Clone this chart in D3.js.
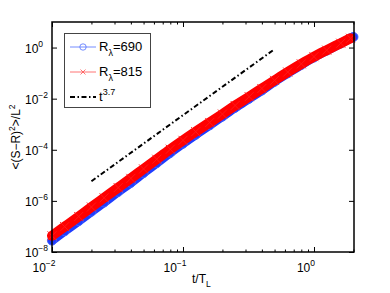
<!DOCTYPE html>
<html>
<head>
<meta charset="utf-8">
<script src="https://cdn.jsdelivr.net/npm/d3@7"></script>
<style>
  body { margin: 0; background: #fff; }
  text { font-family: "Liberation Sans", Arial, sans-serif; fill: #000; }
</style>
</head>
<body>
<div id="chart"></div>
<script>
// Data

const tValues = [0.01, 0.0125, 0.016, 0.02, 0.025, 0.032, 0.04, 0.05, 0.063, 0.08,
  0.1, 0.125, 0.16, 0.2, 0.25, 0.32, 0.4, 0.5, 0.63, 0.8, 1.0, 1.25, 1.6, 1.9];

const r815 = [4.3e-8, 9.8e-8, 2.45e-7, 5.75e-7, 1.32e-6, 3.3e-6, 7.6e-6, 1.78e-5, 4.27e-5, 1.05e-4,
  2.34e-4, 5.1e-4, 1.17e-3, 2.5e-3, 5.4e-3, 0.012, 0.025, 0.052, 0.11, 0.23, 0.44, 0.79, 1.48, 2.3];

const tBlue = [0.01, 0.0125, 0.016, 0.02, 0.025, 0.032, 0.04, 0.05, 0.063, 0.08,
  0.1, 0.125, 0.16, 0.2, 0.25, 0.32, 0.4, 0.5, 0.63, 0.8, 1.0, 1.25, 1.6, 1.9, 2.0];

const r690 = [2.8e-8, 6.5e-8, 1.62e-7, 3.8e-7, 8.7e-7, 2.24e-6, 5.1e-6, 1.23e-5, 3.0e-5, 7.6e-5,
  1.74e-4, 3.9e-4, 9.1e-4, 2.0e-3, 4.4e-3, 0.010, 0.021, 0.046, 0.098, 0.21, 0.41, 0.76, 1.45, 2.3, 2.6];

const fitT = [0.02, 0.49];
const fitY = [5.9e-6, 0.8];

const xTicks = [0.01, 0.1, 1];
const xTickExp = ["\u22122", "\u22121", "0"];
const yTicks = [1e-8, 1e-6, 1e-4, 1e-2, 1];
const yTickExp = ["\u22128", "\u22126", "\u22124", "\u22122", "0"];

// Chart

const width = 390;
const height = 293;
const margin = { top: 22, right: 36, bottom: 41, left: 52 };

const svg = d3
  .select("#chart")
  .append("svg")
  .attr("width", width)
  .attr("height", height);

const xScale = d3
  .scaleLog()
  .domain([0.01, 2.02])
  .range([margin.left, width - margin.right]);

const yScale = d3
  .scaleLog()
  .domain([1e-8, 10])
  .range([height - margin.bottom, margin.top]);

svg.append("clipPath").attr("id", "clip")
  .append("rect")
  .attr("x", margin.left - 6)
  .attr("y", margin.top)
  .attr("width", width - margin.left - margin.right + 12)
  .attr("height", height - margin.top - margin.bottom + 6);

const plot = svg.append("g").attr("clip-path", "url(#clip)");

const line = d3
  .line()
  .x((d) => xScale(d[0]))
  .y((d) => yScale(d[1]));

const smooth = d3
  .line()
  .curve(d3.curveMonotoneX)
  .x((d) => xScale(d[0]))
  .y((d) => yScale(d[1]));

const blueData = tBlue.map((t, i) => [t, r690[i]]);
const redData = tValues.map((t, i) => [t, r815[i]]);

// R = 690: blue circles
plot.append("path")
  .datum(blueData)
  .attr("d", smooth)
  .attr("fill", "none")
  .attr("stroke", "#1f3dff")
  .attr("stroke-width", 9)
  .attr("stroke-linecap", "round");

plot.selectAll(".c690")
  .data(blueData)
  .enter()
  .append("circle")
  .attr("cx", (d) => xScale(d[0]))
  .attr("cy", (d) => yScale(d[1]))
  .attr("r", 4.5)
  .attr("fill", "none")
  .attr("stroke", "#3f5fff")
  .attr("stroke-width", 1);

// R = 815: red crosses
plot.append("path")
  .datum(redData)
  .attr("d", smooth)
  .attr("fill", "none")
  .attr("stroke", "#ff0000")
  .attr("stroke-width", 10)
  .attr("stroke-linecap", "round");

plot.selectAll(".x815")
  .data(redData)
  .enter()
  .append("path")
  .attr("transform", (d) => `translate(${xScale(d[0])},${yScale(d[1])})`)
  .attr("d", "M-4.5,-4.5L4.5,4.5M-4.5,4.5L4.5,-4.5")
  .attr("stroke", "#ff1a1a")
  .attr("stroke-width", 1);

// t^3.7 reference line
svg.append("path")
  .datum(fitT.map((t, i) => [t, fitY[i]]))
  .attr("d", line)
  .attr("fill", "none")
  .attr("stroke", "#000")
  .attr("stroke-width", 2)
  .attr("stroke-dasharray", "5,2.5,1.5,2.5");

// Axes box and ticks

const x0 = margin.left, x1 = width - margin.right;
const y0 = height - margin.bottom, y1 = margin.top;

const minorX = [];
[0.01, 0.1, 1].forEach((dec) => {
  for (let k = 2; k <= 9; k++) {
    if (dec * k <= 2.02) minorX.push(dec * k);
  }
});

svg.append("g")
  .attr("transform", `translate(0, ${y0})`)
  .call(d3.axisBottom(xScale).tickValues(xTicks).tickSize(-5).tickFormat(""))
  .call((g) => g.select(".domain").remove());
svg.append("g")
  .attr("transform", `translate(0, ${y0})`)
  .call(d3.axisBottom(xScale).tickValues(minorX).tickSize(-2.5).tickFormat(""))
  .call((g) => g.select(".domain").remove());
svg.append("g")
  .attr("transform", `translate(0, ${y1})`)
  .call(d3.axisTop(xScale).tickValues(xTicks).tickSize(-5).tickFormat(""))
  .call((g) => g.select(".domain").remove());
svg.append("g")
  .attr("transform", `translate(0, ${y1})`)
  .call(d3.axisTop(xScale).tickValues(minorX).tickSize(-2.5).tickFormat(""))
  .call((g) => g.select(".domain").remove());
svg.append("g")
  .attr("transform", `translate(${x0}, 0)`)
  .call(d3.axisLeft(yScale).tickValues(yTicks).tickSize(-5).tickFormat(""))
  .call((g) => g.select(".domain").remove());
svg.append("g")
  .attr("transform", `translate(${x1}, 0)`)
  .call(d3.axisRight(yScale).tickValues(yTicks).tickSize(-5).tickFormat(""))
  .call((g) => g.select(".domain").remove());

svg.selectAll(".tick line").attr("stroke", "#000").attr("stroke-width", 1);

svg.append("rect")
  .attr("x", x0)
  .attr("y", y1)
  .attr("width", x1 - x0)
  .attr("height", y0 - y1)
  .attr("fill", "none")
  .attr("stroke", "#000")
  .attr("stroke-width", 1.5);

// Tick labels

xTicks.forEach((v, i) => {
  const t = svg.append("text")
    .attr("x", xScale(v) - 8)
    .attr("y", y0 + 20)
    .attr("text-anchor", "middle")
    .style("font-size", "12px");
  t.append("tspan").text("10");
  t.append("tspan").attr("dy", -6).style("font-size", "8.5px").text(xTickExp[i]);
});

yTicks.forEach((v, i) => {
  const t = svg.append("text")
    .attr("x", x0 - 27)
    .attr("y", yScale(v) + 5)
    .style("font-size", "12px");
  t.append("tspan").text("10");
  t.append("tspan").attr("dy", -6).style("font-size", "8.5px").text(yTickExp[i]);
});

// Axis titles

const xl = svg.append("text")
  .attr("x", 192)
  .attr("y", 283)
  .style("font-size", "12px");
xl.append("tspan").text("t/T");
xl.append("tspan").attr("dy", 4).style("font-size", "8.5px").text("L");

const yl = svg.append("text")
  .attr("transform", `translate(20, ${(y0 + y1) / 2}) rotate(-90)`)
  .attr("text-anchor", "middle")
  .style("font-size", "12px");
yl.append("tspan").text("<(S\u2212R)");
yl.append("tspan").attr("dy", -5).style("font-size", "8.5px").text("2");
yl.append("tspan").attr("dy", 5).text(">/L");
yl.append("tspan").attr("dy", -5).style("font-size", "8.5px").text("2");

// Legend

const legend = svg.append("g");
legend.append("rect")
  .attr("x", 64.5)
  .attr("y", 33.5)
  .attr("width", 86)
  .attr("height", 74)
  .attr("fill", "#fff")
  .attr("stroke", "#444")
  .attr("stroke-width", 1);

const legendItems = [
  { y: 47, color: "#5070ff", marker: "circle", label: "690" },
  { y: 72, color: "#ff5050", marker: "cross", label: "815" },
];

legendItems.forEach((d) => {
  legend.append("line")
    .attr("x1", 70).attr("x2", 96)
    .attr("y1", d.y).attr("y2", d.y)
    .attr("stroke", d.color).attr("stroke-width", 0.8);
  if (d.marker === "circle") {
    legend.append("circle")
      .attr("cx", 83).attr("cy", d.y).attr("r", 3.2)
      .attr("fill", "none").attr("stroke", d.color).attr("stroke-width", 0.8);
  } else {
    legend.append("path")
      .attr("transform", `translate(83, ${d.y})`)
      .attr("d", "M-2.5,-2.5L2.5,2.5M-2.5,2.5L2.5,-2.5")
      .attr("stroke", d.color).attr("stroke-width", 0.8);
  }
  const t = legend.append("text")
    .attr("x", 99)
    .attr("y", d.y + 4)
    .style("font-size", "13px");
  t.append("tspan").text("R");
  t.append("tspan").attr("dy", 5).style("font-size", "9px").text("\u03bb");
  t.append("tspan").attr("dy", -5).text("=" + d.label);
});

legend.append("line")
  .attr("x1", 70).attr("x2", 96)
  .attr("y1", 97).attr("y2", 97)
  .attr("stroke", "#000").attr("stroke-width", 1.8)
  .attr("stroke-dasharray", "5,2.5,1.5,2.5");

const lt = legend.append("text")
  .attr("x", 99)
  .attr("y", 101)
  .style("font-size", "13px");
lt.append("tspan").text("t");
lt.append("tspan").attr("dy", -6).style("font-size", "9px").text("3.7");
</script>
</body>
</html>
